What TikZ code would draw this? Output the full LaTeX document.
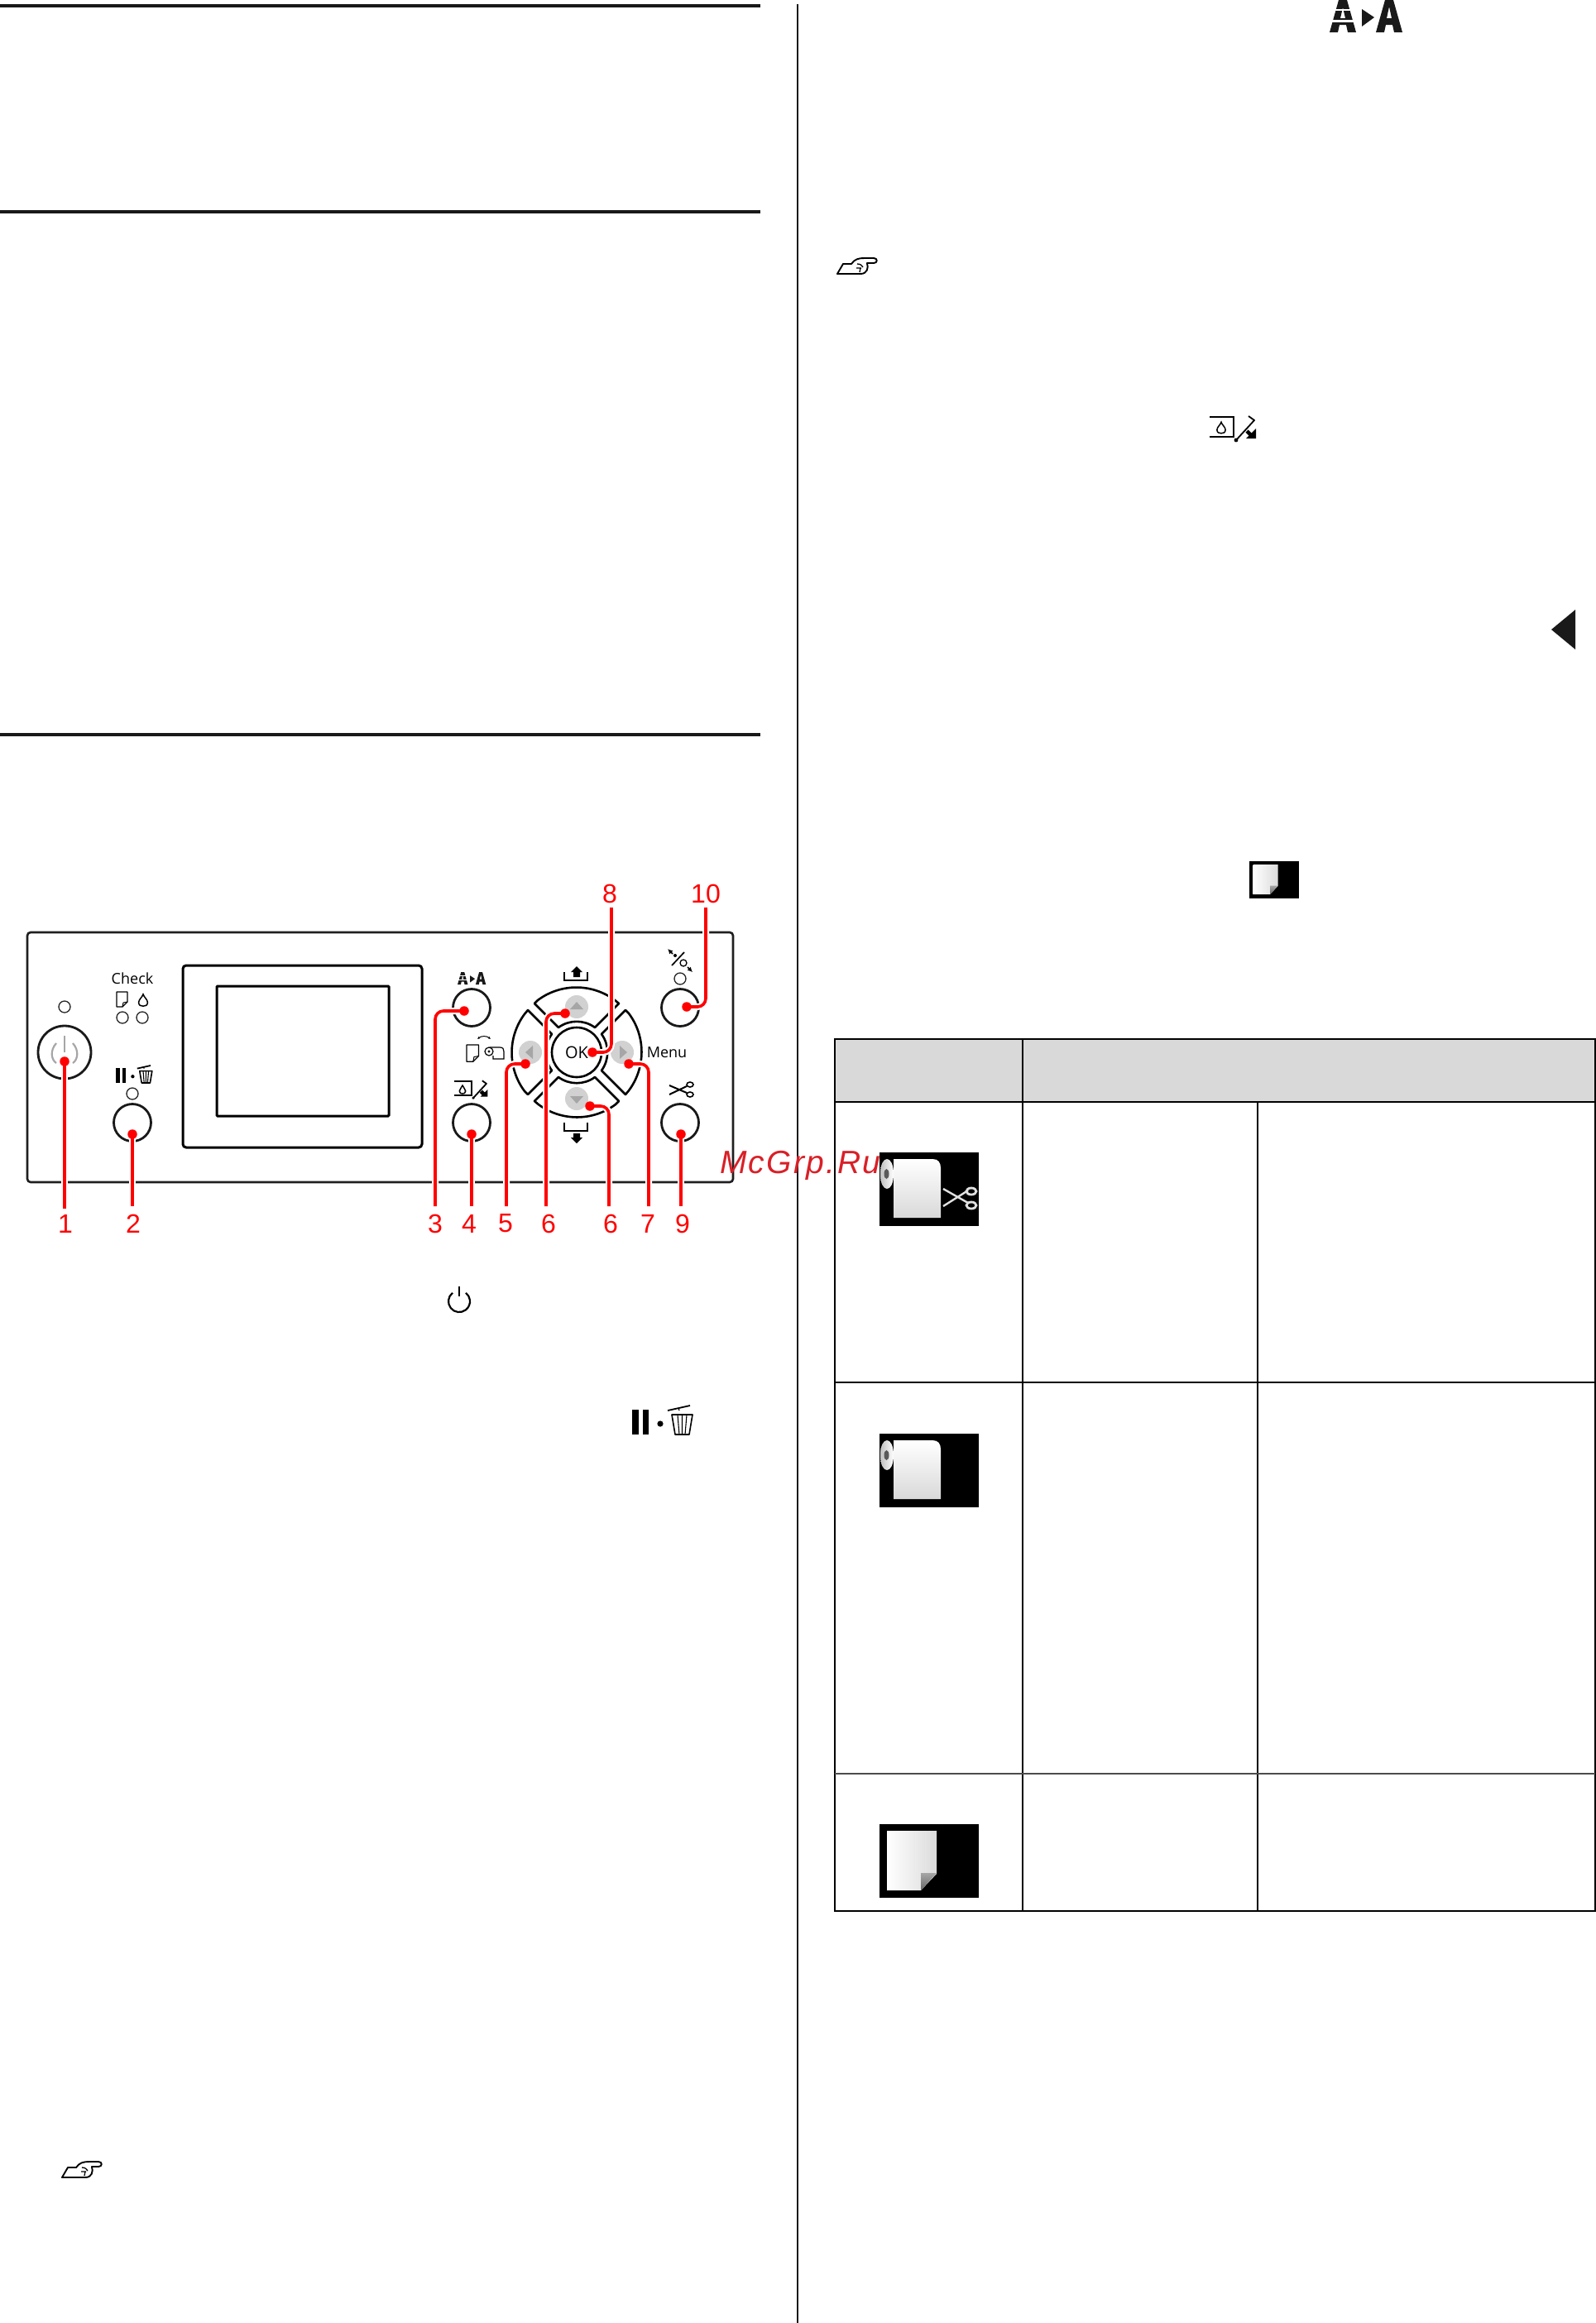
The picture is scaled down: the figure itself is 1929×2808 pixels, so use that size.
\documentclass[tikz,border=0pt]{standalone}
\usepackage{fontspec}
\setmainfont{Liberation Sans}
\newfontfamily\panelfont{Open Sans}
\newfontfamily\wmfont[LetterSpace=6]{Liberation Sans}
\usetikzlibrary{arrows.meta}
\definecolor{wmred}{HTML}{D92027}
\tikzset{
  rule/.style={draw=black!90,line width=3.4},
  ring/.style={circle,draw=black!90,line width=2.8,minimum size=45pt,inner sep=0pt},
  led/.style={circle,draw=black!85,line width=1.3,minimum size=14pt,inner sep=0pt},
  greybtn/.style={circle,fill=black!18,minimum size=28pt,inner sep=0pt},
  leader/.style={draw=red,line width=3.6,preaction={draw=white,line width=8}},
  reddot/.style={circle,fill=red,minimum size=11.5pt,inner sep=0pt},
  numlabel/.style={text=red,font=\fontsize{32}{32}\selectfont,inner sep=0pt},
  panellabel/.style={font=\panelfont\fontsize{18}{18}\selectfont,inner sep=0pt,text=black},
  tablerule/.style={draw=black,line width=2},
  outlinepaper/.pic={
    \draw[line width=1.3,line join=round] (0,0) -- (13,0) -- (13,12) -- (7,18) -- (0,18) -- cycle;
    \draw[line width=1] (13,12) -- (8,13) -- (7,18);
  },
  dropicon/.pic={
    \draw[line width=1.5] (0,-8) .. controls (1,-4) and (6,-1) .. (6,3) .. controls (6,7) and (3,8) .. (0,8) .. controls (-3,8) and (-6,7) .. (-6,3) .. controls (-6,-1) and (-1,-4) .. (0,-8) -- cycle;
  },
  handicon/.pic={
    \draw[line width=1.9,line join=round] (0,0) -- (7,-12) -- (17,-12) .. controls (21,-18) and (26,-19) .. (33,-19) -- (44,-19) .. controls (49,-19) and (49,-13) .. (44,-13) -- (36,-13) .. controls (38,-7) and (36,0) .. (28,0) -- cycle;
    \draw[line width=1.3] (24,-12) .. controls (28,-12) and (30,-10) .. (31,-8) (23,-7) -- (29,-7) (28,-7) -- (27,-2);
  },
  aaicon/.pic={
    \fill[black!90,even odd rule] (0,39) -- (11,0) -- (21,0) -- (32,39) -- (22,39) -- (20,30) -- (12,30) -- (10,39) -- cycle (16,9) -- (19,22) -- (13,22) -- cycle;
    \fill[white] (0,10.5) rectangle (32,12.5);
    \fill[white] (0,23.5) rectangle (32,26.5);
    \fill[black!90] (39,11) -- (54,21) -- (39,32) -- cycle;
    \fill[black!90,even odd rule] (56,39) -- (67,0) -- (77,0) -- (88,39) -- (78,39) -- (76,30) -- (68,30) -- (66,39) -- cycle (72,8) -- (75,22) -- (69,22) -- cycle;
  },
  inkicon/.pic={
    \draw[line width=2.4] (0,0) -- (29,0) -- (29,24) -- (0,24);
    \draw[line width=1.8,line join=round] (32,28) -- (54,4) -- (47,-1);
    \fill (32,28) circle (2.4);
    \draw[line width=4.5] (45,17) -- (50,22);
    \fill (56,26) -- (56,14) -- (44,26) -- cycle;
  },
  pauseicon/.pic={
    \fill (0,5) rectangle (8,35);
    \fill (13,5) rectangle (20,35);
    \fill (34,22) circle (3.6);
    \draw[line width=1.6,line join=round] (48,11) -- (73,11) -- (69,35) -- (52,35) -- cycle;
    \draw[line width=1.1] (55,11) -- (57,35) (60.5,11) -- (60.5,35) (66,11) -- (64,35);
    \draw[line width=1.8] (43,6) -- (70,0);
    \draw[line width=1.2] (56,3) -- (57,6);
  },
  rollbody/.pic={
    \fill[black] (0,0) rectangle (120,89);
    \shade[top color=white,bottom color=black!15] (17,8) -- (64,8) .. controls (71,8) and (74,12) .. (74,19) -- (74,79) -- (17,79) -- cycle;
    \shade[left color=black!25,right color=white] (1,26) .. controls (1,14) and (5,8) .. (9,8) .. controls (13,8) and (17,14) .. (17,26) .. controls (17,38) and (13,44) .. (9,44) .. controls (5,44) and (1,38) .. (1,26) -- cycle;
    \fill[black!65] (8.5,26) ellipse (3 and 6);
  },
  scissorsicon/.pic={
    \draw[black!12,line width=2.4] (0,0) -- (30,17) (0,21) -- (30,2);
    \draw[black!12,line width=2.8] (34,3) ellipse (6 and 4) (34,20) ellipse (6 and 4);
  },
  sheeticon/.pic={
    \fill[black] (0,0) rectangle (120,89);
    \shade[left color=white,right color=black!14] (9,8) -- (69,8) -- (69,60) -- (50,80) -- (9,80) -- cycle;
    \shade[top color=black!35,bottom color=black!60] (50,59) -- (69,59) -- (50,80) -- cycle;
  },
}
\begin{document}
\begin{tikzpicture}[x=1pt,y=-1pt,line cap=butt]
\useasboundingbox (0,0) rectangle (1929,2808);
\fill[white] (0,0) rectangle (1929,2808);

% page rules
\draw[rule] (0,7) -- (919,7);
\draw[rule] (0,256) -- (919,256);
\draw[rule] (0,888) -- (919,888);
\draw[draw=black!90,line width=2.4] (964,5) -- (964,2808);

% right column inline icons
\pic at (1607,0) {aaicon};
\pic at (1012,331) {handicon};
\pic at (1462,504) {inkicon};
\fill[black!90] (1875,761) -- (1904,737) -- (1904,785) -- cycle;
\pic[scale=0.5] at (1510,1041) {sheeticon};

% left column inline icons
\draw[line width=2.2] (547,1562.8) arc (-128:-412:13);
\draw[line width=2.2] (555,1555) -- (555,1567);
\pic at (764,1699) {pauseicon};
\pic at (75,2632) {handicon};

% table
\fill[black!15] (1009,1256) rectangle (1928,1332);
\draw[tablerule] (1009,1256) rectangle (1928,2310);
\draw[tablerule] (1009,1332) -- (1928,1332);
\draw[tablerule] (1236,1256) -- (1236,2310);
\draw[tablerule] (1519.5,1332) -- (1519.5,2310);
\draw[tablerule] (1009,1671) -- (1928,1671);
\draw[draw=black!70,line width=1.4] (1009,2144) -- (1928,2144);
\pic at (1063,1393) {rollbody};
\pic at (1140,1437) {scissorsicon};
\pic at (1063,1733) {rollbody};
\pic at (1063,2205) {sheeticon};

% panel
\draw[draw=black!88,line width=2.6,rounded corners=4] (33,1127) rectangle (886,1429);
\draw[draw=black,line width=3,rounded corners=4] (221,1167) rectangle (510,1387);
\draw[draw=black,line width=3,rounded corners=1] (262,1192) rectangle (470,1349);

% power button
\node[led] (powerled) at (78,1217) {};
\node[ring,minimum size=64pt] (powerbtn) at (78,1272) {};
\draw[black!35,line width=2.2] (68,1261) .. controls (60,1270) and (62,1281) .. (68,1285);
\draw[black!35,line width=2.2] (88,1261) .. controls (96,1270) and (94,1281) .. (88,1285);
\draw[black!35,line width=1.6] (78,1252) -- (78,1272);

% check
\node[panellabel] (checktext) at (160,1183) {Check};
\pic at (141,1199) {outlinepaper};
\pic[scale=0.9] at (173,1209) {dropicon};
\node[led] (checkled1) at (148,1230) {};
\node[led] (checkled2) at (172,1230) {};
\pic[scale=0.6] at (140,1288) {pauseicon};
\node[led] (pauseled) at (160,1322) {};
\node[ring] (pausebtn) at (160,1357) {};

% A>A
\pic[scale=0.39] at (553,1175) {aaicon};
\node[ring] (aabtn) at (570,1218) {};

% paper / roll icon
\pic[scale=1.12] at (564,1263) {outlinepaper};
\draw[line width=1.2] (592,1266) -- (604,1266) .. controls (608,1266) and (609,1268) .. (609,1271) -- (609,1280) -- (596,1280) -- (596,1276);
\draw[line width=1.2] (591,1271) circle (5);
\fill (591,1271) circle (1.6);
\draw[line width=1,{Latex[length=3pt,width=3pt]}-{Latex[length=3pt,width=3pt]}] (577,1256) .. controls (582,1252) and (588,1252) .. (593,1256);

% ink change
\pic[scale=0.72] at (549,1307) {inkicon};
\pic[scale=0.62] at (559,1317) {dropicon};
\node[ring] (inkbtn) at (570,1357) {};
\pic[scale=0.85] at (1476,517) {dropicon};

% pad
\begin{scope}[shift={(697,1272)}]
  \foreach \ang in {0,90,180,270}{
    \begin{scope}[rotate=\ang]
      \draw[draw=black,line width=2.6,line join=round] (-47,-63) arc (233.3:306.7:78) -- (51,-59) -- (22,-30) arc (306.3:233.7:37.2) -- (-51,-59) -- cycle;
    \end{scope}
  }
\end{scope}
\node[circle,draw=black,line width=2.6,minimum size=60pt,inner sep=0pt,font=\panelfont\fontsize{20}{20}\selectfont] (okbtn) at (697,1272) {OK};
\node[greybtn] (upbtn) at (697,1217) {};
\node[greybtn] (downbtn) at (697,1328) {};
\node[greybtn] (leftbtn) at (641,1272) {};
\node[greybtn] (rightbtn) at (752,1272) {};
\fill[black!35] (697,1211) -- (689,1220) -- (705,1220) -- cycle;
\fill[black!35] (697,1334) -- (689,1325) -- (705,1325) -- cycle;
\fill[black!35] (635,1272) -- (644,1264) -- (644,1280) -- cycle;
\fill[black!35] (758,1272) -- (749,1264) -- (749,1280) -- cycle;

% brackets with arrows
\draw[line width=2] (682,1175) -- (682,1185) -- (710,1185) -- (710,1175);
\fill (697,1168) -- (704,1175) -- (701,1175) -- (701,1181) -- (693,1181) -- (693,1175) -- (690,1175) -- cycle;
\draw[line width=2] (682,1357) -- (682,1367) -- (710,1367) -- (710,1357);
\fill (697,1382) -- (704,1375) -- (701,1375) -- (701,1370) -- (693,1370) -- (693,1375) -- (690,1375) -- cycle;

\node[panellabel] (menutext) at (806,1272) {Menu};

% percent icon
\draw[line width=1.7] (812,1167) -- (827,1151);
\fill (816,1155) circle (2);
\draw[line width=1.3] (826,1164) circle (4);
\draw[line width=1.7,-{Latex[length=6pt,width=6pt]}] (813,1153) -- (807,1147);
\draw[line width=1.7,-{Latex[length=6pt,width=6pt]}] (831,1169) -- (837,1175);
\node[led] (cutled) at (822,1183) {};
\node[ring] (cutbtn) at (822,1218) {};

% scissors on panel
\draw[line width=2] (809,1312) -- (830,1321) (809,1323) -- (830,1313);
\draw[line width=1.6] (834,1311) ellipse (4 and 3) (834,1323) ellipse (4 and 3);
\node[ring] (scissorbtn) at (822,1357) {};

% number labels
\node[numlabel] (lab1) at (79,1479) {1};
\node[numlabel] (lab2) at (161,1479) {2};
\node[numlabel] (lab3) at (526,1479) {3};
\node[numlabel] (lab4) at (567,1479) {4};
\node[numlabel] (lab5) at (611,1479) {5};
\node[numlabel] (lab6a) at (663,1479) {6};
\node[numlabel] (lab6b) at (738,1479) {6};
\node[numlabel] (lab7) at (783,1479) {7};
\node[numlabel] (lab9) at (825,1479) {9};
\node[numlabel] (lab8) at (737,1080) {8};
\node[numlabel] (lab10) at (853,1080) {10};

% leader ends
\coordinate (e1) at (78,1461);
\coordinate (e2) at (160,1458);
\coordinate (e3) at (526,1458);
\coordinate (e4) at (570,1458);
\coordinate (e5) at (612,1458);
\coordinate (e6a) at (660,1458);
\coordinate (e6b) at (736,1458);
\coordinate (e7) at (784,1458);
\coordinate (e9) at (823,1458);
\coordinate (e8) at (739,1097);
\coordinate (e10) at (853,1097);

% dots (named, drawn after leaders)
\coordinate (p1) at (78,1283);
\coordinate (p2) at (160,1371);
\coordinate (p3) at (561,1222);
\coordinate (p4) at (570,1371);
\coordinate (p5) at (635,1286);
\coordinate (p6a) at (683,1225);
\coordinate (p6b) at (713,1337);
\coordinate (p7) at (760,1286);
\coordinate (p9) at (823,1371);
\coordinate (p8) at (716,1272);
\coordinate (p10) at (830,1217);

\draw[leader] (p1) -- (e1);
\draw[leader] (p2) -- (e2);
\draw[leader,rounded corners=10] (p3) -| (e3);
\draw[leader] (p4) -- (e4);
\draw[leader,rounded corners=10] (p5) -| (e5);
\draw[leader,rounded corners=10] (p6a) -| (e6a);
\draw[leader,rounded corners=10] (p6b) -| (e6b);
\draw[leader,rounded corners=10] (p7) -| (e7);
\draw[leader] (p9) -- (e9);
\draw[leader,rounded corners=10] (p8) -| (e8);
\draw[leader,rounded corners=10] (p10) -| (e10);

\node[reddot] (d1) at (p1) {};
\node[reddot] (d2) at (p2) {};
\node[reddot] (d3) at (p3) {};
\node[reddot] (d4) at (p4) {};
\node[reddot] (d5) at (p5) {};
\node[reddot] (d6a) at (p6a) {};
\node[reddot] (d6b) at (p6b) {};
\node[reddot] (d7) at (p7) {};
\node[reddot] (d9) at (p9) {};
\node[reddot] (d8) at (p8) {};
\node[reddot] (d10) at (p10) {};

% watermark
\node[anchor=base west,inner sep=0pt,text=wmred,font=\wmfont\itshape\fontsize{39}{39}\selectfont] (watermark) at (870,1418) {McGrp.Ru};
\end{tikzpicture}
\end{document}
